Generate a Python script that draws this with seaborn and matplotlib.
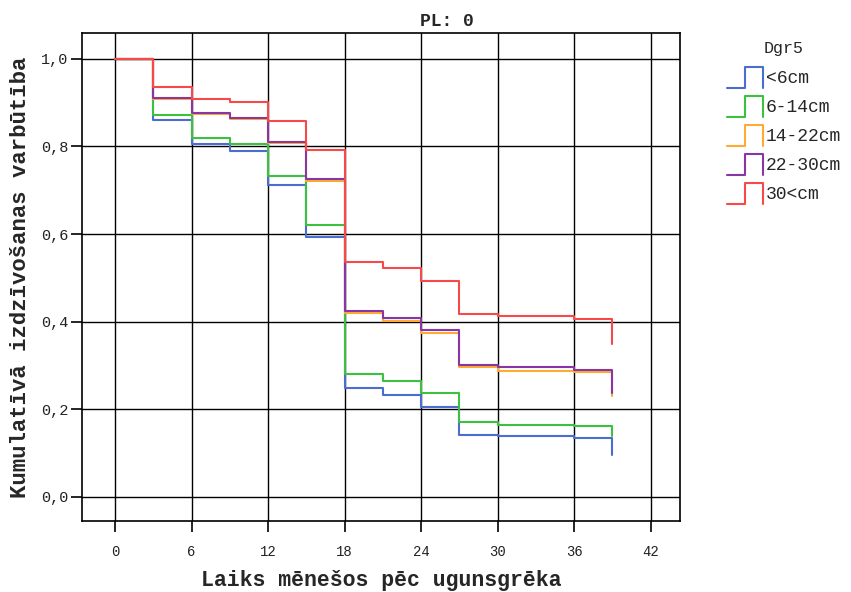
import numpy as np
import pandas as pd
import matplotlib
matplotlib.use("Agg")
import matplotlib.pyplot as plt
import seaborn as sns
from matplotlib.legend_handler import HandlerBase
from matplotlib.lines import Line2D

# Kaplan-Meier steps
months = [0, 3, 6, 9, 12, 15, 18, 21, 24, 27, 30, 36, 39]
groups = ["<6cm", "6-14cm", "14-22cm", "22-30cm", "30<cm"]
surv_lt6 = [1.0, 0.861, 0.805, 0.789, 0.711, 0.593, 0.249, 0.233, 0.206, 0.142, 0.138, 0.134, 0.096]
surv_6_14 = [1.0, 0.871, 0.820, 0.805, 0.733, 0.621, 0.281, 0.265, 0.237, 0.170, 0.164, 0.161, 0.140]
surv_14_22 = [1.0, 0.908, 0.874, 0.862, 0.807, 0.720, 0.419, 0.402, 0.374, 0.296, 0.288, 0.285, 0.231]
surv_22_30 = [1.0, 0.911, 0.877, 0.864, 0.811, 0.725, 0.425, 0.408, 0.380, 0.301, 0.297, 0.290, 0.237]
surv_30 = [1.0, 0.935, 0.909, 0.901, 0.859, 0.792, 0.537, 0.522, 0.494, 0.418, 0.412, 0.406, 0.349]
colors = ["#4a6ed0", "#3cc040", "#ffaa33", "#8a35a5", "#f84848"]

rows = []
for g, vals in zip(groups, [surv_lt6, surv_6_14, surv_14_22, surv_22_30, surv_30]):
    for t, v in zip(months, vals):
        rows.append({"Dgr5": g, "t": t, "s": v})
df = pd.DataFrame(rows)

sns.set_style("white")
plt.rcParams["font.family"] = ["Liberation Mono", "DejaVu Sans Mono"]
plt.rcParams.update({"xtick.bottom": True, "ytick.left": True,
                     "xtick.major.size": 8, "ytick.major.size": 8,
                     "xtick.major.width": 1.2, "ytick.major.width": 1.2,
                     "xtick.color": "black", "ytick.color": "black"})


class StepHandler(HandlerBase):
    def create_artists(self, legend, orig_handle, xdescent, ydescent, width, height, fontsize, trans):
        xs = np.array([0, 0.5, 0.5, 1, 1]) * width - xdescent
        ys = np.array([0, 0, 1, 1, 0]) * height - ydescent
        ln = Line2D(xs, ys, color=orig_handle.get_color(), lw=1.5, transform=trans)
        return [ln]


fig = plt.figure(figsize=(8.51, 5.92), dpi=100)
ax = fig.add_axes([0.0964, 0.1199, 0.7026, 0.8244])

sns.lineplot(data=df, x="t", y="s", hue="Dgr5", hue_order=groups, palette=colors,
             estimator=None, drawstyle="steps-post", lw=1.5, ax=ax, legend=False, zorder=3)

ax.set_xlim(-2.6, 44.3)
ax.set_ylim(-0.055, 1.059)
ax.set_xticks(range(0, 43, 6))
yt = [0.0, 0.2, 0.4, 0.6, 0.8, 1.0]
ax.set_yticks(yt)
ax.set_yticklabels([f"{v:.1f}".replace(".", ",") for v in yt])
ax.grid(True, color="black", lw=1.0, zorder=0)
ax.set_axisbelow(True)
for sp in ax.spines.values():
    sp.set_color("black")
    sp.set_linewidth(1.2)
ax.tick_params(axis="both", which="major", direction="out", length=8, width=1.2,
               color="black", bottom=True, left=True, labelcolor="#222222")
ax.tick_params(axis="x", pad=9, labelsize=10)
ax.tick_params(axis="y", pad=2, labelsize=11)

fig.text(447 / 851, 1 - 22 / 592, "PL: 0", fontsize=13, fontweight="bold", ha="center", va="center")
ax.set_xlabel("Laiks mēnešos pēc ugunsgrēka", fontsize=15.5, fontweight="bold", labelpad=8)
ax.set_ylabel("Kumulatīvā izdzīvošanas varbūtība", fontsize=16, fontweight="bold", labelpad=7)

handles = [Line2D([], [], color=c) for c in colors]
leg = fig.legend(handles, groups, title="Dgr5", loc="upper left",
                 bbox_to_anchor=(718 / 851, 1 - 31.5 / 592), frameon=False,
                 handler_map={Line2D: StepHandler()}, fontsize=13, title_fontsize=12,
                 handlelength=2.0, handleheight=1.45, labelspacing=0.42, handletextpad=0.15,
                 borderpad=0)
leg._legend_box.sep = 8

fig.savefig("out.png", dpi=100)
